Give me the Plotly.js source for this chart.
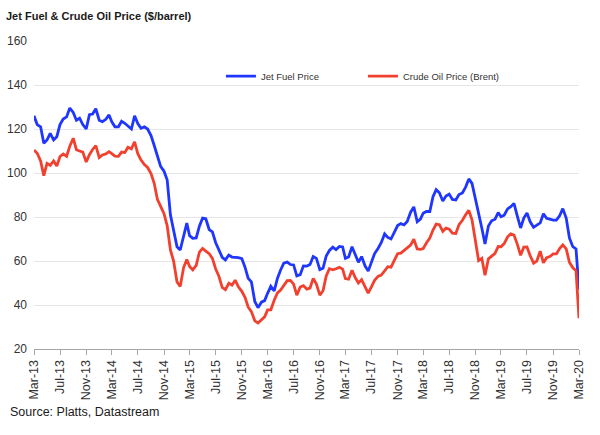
<!DOCTYPE html>
<html>
<head>
<meta charset="utf-8">
<script src="https://cdn.plot.ly/plotly-3.0.1.min.js"></script>
<style>
  html, body { margin: 0; padding: 0; background: #fff; }
  #chart { width: 600px; height: 435px; }
</style>
</head>
<body>
<div id="chart"></div>
<script>
// Semi-monthly observations (1st and 16th of each month), Mar-2013 .. Mar-2020
const startYear = 2013;
const startMonth = 3;
const pointCount = 169;

const jetFuel = [
  126, 122, 121, 113.5, 115, 118, 115, 116.5, 122, 124.5,
  125.5, 129.5, 127.5, 124, 124.9, 122, 120, 126.5, 126.8, 129.2,
  124, 123.3, 124.4, 126.4, 123.3, 121, 121, 123.5, 122.6, 121.3,
  120, 126, 122.5, 120.3, 121, 120, 117, 112.5, 107.9, 103,
  100.8, 96.8, 81, 74.3, 66.5, 65, 72, 77.2, 71.5, 70.3,
  70.5, 75.8, 79.5, 79.2, 74.3, 73.2, 68.4, 65.5, 61.7, 60.5,
  62.7, 61.8, 61.8, 61.5, 61.1, 57.2, 52.1, 50.5, 41.6, 38.8,
  41.3, 42, 45.3, 48.5, 46.4, 52.1, 55.9, 59, 59.5, 58.4,
  58.2, 53.2, 53.8, 57.8, 57.7, 58.4, 62, 61.2, 56.1, 56.7,
  62.3, 64.8, 66.3, 65.2, 66.6, 66.4, 61.2, 61.8, 66.5, 62.5,
  59.4, 62, 57.8, 55.4, 59.3, 63.4, 65.7, 68.3, 72.3, 70.7,
  70, 72.9, 76.1, 77, 76.4, 78, 82.2, 84.6, 77.8, 79,
  81.7, 82.5, 82.5, 89.2, 92.4, 91, 87.3, 89.5, 90.4, 88,
  87.7, 90.2, 90.9, 93.6, 97.3, 95.3, 88.6, 81.4, 75, 67.7,
  75.9, 78.3, 79, 82, 80.1, 80.8, 83.7, 84.7, 86.2, 80.6,
  75, 79.5, 81.8, 77.8, 75.3, 76.3, 77.3, 81.5, 79.4, 79,
  78.6, 78.6, 80.5, 83.8, 79.5, 70.5, 66.5, 65.5, 47
];

const crudeBrent = [
  110.5, 109, 105.5, 98.8, 104.4, 103.5, 105.5, 103.2, 107.5, 108.6,
  107.6, 112.2, 115.8, 110.6, 110, 109.5, 105, 108.3, 110.7, 112.4,
  107, 108.2, 108.7, 109.7, 108.8, 107.7, 107.6, 109.5, 109.3, 111.7,
  111, 114.2, 108.8, 105.9, 103.8, 102.5, 99.7, 95.3, 88, 85,
  81.5, 76, 65, 60, 50.5, 48.4, 57, 60.7, 57.5, 56,
  58, 64, 65.7, 64.5, 63.3, 61.2, 56.5, 53.2, 48, 47,
  49.9, 49, 51.3, 48.3, 46.2, 43.5, 39, 37, 32.8, 31.8,
  33.5, 34.6, 37.8, 37.8, 42.2, 45.5, 46.8, 49.2, 51.1, 51.2,
  49.5, 44.5, 48.2, 48.8, 47.2, 47.7, 52.1, 49.5, 44.5, 46.5,
  53.2, 56.5, 56, 56.5, 57.1, 56.3, 52, 51.7, 55.8, 52.5,
  50, 51.5, 48.2, 45.4, 48.2, 51.2, 53, 53.6, 55.5, 57.4,
  57.2, 60.5, 63.3, 63.6, 64.8, 66, 67.2, 69.9, 65.5, 65.3,
  65.7, 68.2, 70.4, 74.1, 76.8, 76.5, 73.5, 75, 74.5, 72.7,
  72.5, 76.5, 78.5, 81, 83, 78.7, 69.7, 60.2, 61.2, 53.5,
  61, 62.3, 63.5, 66.6, 66.5, 67.9, 71, 72.3, 71.8, 67.8,
  62.6, 66.3, 66.4, 62.4, 59, 60, 64.5, 59.2, 61.5, 62,
  63.2, 63.2, 65.7, 67.3, 65.5, 59.5, 56.9, 55.6, 34
];

const seriesNames = ['Jet Fuel Price', 'Crude Oil Price (Brent)'];
const yTicks = [20, 40, 60, 80, 100, 120, 140, 160];

function pad(n) { return (n < 10 ? '0' : '') + n; }
const dates = [];
for (let k = 0; k < pointCount; k++) {
  const mIdx = startMonth - 1 + Math.floor(k / 2);
  const y = startYear + Math.floor(mIdx / 12);
  const m = (mIdx % 12) + 1;
  const d = (k % 2 === 0) ? 1 : 16;
  dates.push(y + '-' + pad(m) + '-' + pad(d));
}

const BLUE = '#1f36ff';
const RED = '#f2402e';
const FONT = 'Liberation Sans, Arial, sans-serif';

const traces = [
  { x: dates, y: jetFuel, name: seriesNames[0], type: 'scatter', mode: 'lines',
    line: { color: BLUE, width: 2.8 }, hoverinfo: 'skip' },
  { x: dates, y: crudeBrent, name: seriesNames[1], type: 'scatter', mode: 'lines',
    line: { color: RED, width: 2.8 }, hoverinfo: 'skip' }
];

const layout = {
  width: 600, height: 435,
  margin: { l: 34, r: 21, t: 41, b: 86, autoexpand: false },
  paper_bgcolor: '#ffffff', plot_bgcolor: '#ffffff',
  font: { family: FONT, color: '#333333', size: 12 },
  title: {
    text: 'Jet Fuel & Crude Oil Price ($/barrel)',
    font: { family: FONT, size: 11, color: '#1a1a1a', weight: 700 },
    xref: 'container', yref: 'container', x: 0.01, xanchor: 'left', y: 0.963, yanchor: 'middle'
  },
  xaxis: {
    type: 'date', automargin: false,
    range: [dates[0], dates[dates.length - 1]],
    tick0: dates[0], dtick: 'M4', tickformat: '%b-%y',
    tickangle: -90,
    showgrid: false, zeroline: false,
    showline: true, linecolor: '#a6a6a6', linewidth: 1,
    ticks: 'outside', ticklen: 5, tickcolor: '#a6a6a6',
    tickfont: { family: FONT, size: 12.5, color: '#333333' },
    fixedrange: true
  },
  yaxis: {
    automargin: false,
    range: [20, 160], tickvals: yTicks,
    showgrid: true, gridcolor: '#e6e6e6', gridwidth: 1,
    zeroline: false, showline: false, ticks: '',
    ticklabelstandoff: 6,
    tickfont: { family: FONT, size: 12, color: '#333333' },
    fixedrange: true
  },
  showlegend: true,
  legend: {
    orientation: 'h', x: 0.343, xanchor: 'left', y: 0.886, yanchor: 'middle',
    bgcolor: 'rgba(0,0,0,0)', borderwidth: 0,
    font: { family: FONT, size: 9.5, color: '#333333' },
    itemwidth: 30, entrywidth: 97, entrywidthmode: 'pixels',
    traceorder: 'normal'
  },
  annotations: [{
    text: 'Source: Platts, Datastream',
    xref: 'paper', yref: 'paper', x: -0.0477, y: -0.2045,
    xanchor: 'left', yanchor: 'middle', showarrow: false,
    font: { family: FONT, size: 12.5, color: '#1a1a1a' }
  }]
};

Plotly.newPlot('chart', traces, layout, { displayModeBar: false, staticPlot: true });
</script>
</body>
</html>
